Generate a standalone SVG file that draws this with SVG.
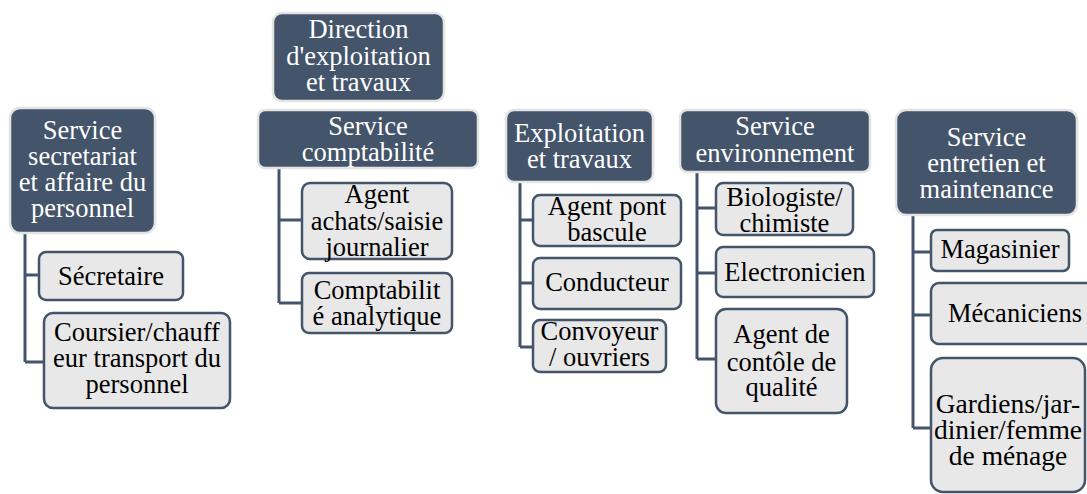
<svg xmlns="http://www.w3.org/2000/svg" width="1087" height="494" viewBox="0 0 1087 494" font-family="'Liberation Serif', 'Times New Roman', serif">
<style>
.hd{fill:#44546A;stroke:#E4E4E4;stroke-width:2.5}
.it{fill:#E8E8E8;stroke:#44546A;stroke-width:2.5}
.c{fill:none;stroke:#44546A;stroke-width:3}
text{font-family:"Liberation Serif","Times New Roman",serif;font-size:26.5px;text-anchor:middle}
.w{fill:#FFFFFF}
.k{fill:#000000}
.big{font-size:27.5px}
</style>
<rect width="1087" height="494" fill="#FFFFFF"/>
<g id="connectors">
<path class="c" d="M25,233 V362 M25,275 H39 M25,362 H44"/>
<path class="c" d="M279,168 V303 M279,220 H302 M279,303 H302"/>
<path class="c" d="M520,182 V347 M520,220 H533 M520,283 H533 M520,347 H533"/>
<path class="c" d="M697,172 V359 M697,208 H716 M697,273 H716 M697,359 H716"/>
<path class="c" d="M913,215 V428 M913,252 H931 M913,315 H931 M913,428 H931"/>
</g>
<g id="direction">
<rect class="hd" x="273" y="13" width="171" height="88" rx="9"/>
<text class="w" x="358.5" y="38">Direction</text>
<text class="w" x="358.5" y="65">d'exploitation</text>
<text class="w" x="358.5" y="91">et travaux</text>
</g>
<g id="secretariat">
<rect class="hd" x="10" y="108" width="145" height="125" rx="10"/>
<text class="w" x="82.5" y="139">Service</text>
<text class="w" x="82.5" y="165">secretariat</text>
<text class="w" x="82.5" y="191">et affaire du</text>
<text class="w" x="82.5" y="217">personnel</text>
</g>
<g id="secretaire">
<rect class="it" x="39" y="252" width="144" height="48" rx="7"/>
<text class="k" x="111" y="285">Sécretaire</text>
</g>
<g id="coursier">
<rect class="it" x="44" y="313" width="186" height="95" rx="9"/>
<text class="k" x="137" y="341">Coursier/chauff</text>
<text class="k" x="137" y="367">eur transport du</text>
<text class="k" x="137" y="393">personnel</text>
</g>
<g id="comptabilite">
<rect class="hd" x="258" y="110" width="220" height="58" rx="7"/>
<text class="w" x="368" y="135">Service</text>
<text class="w" x="368" y="161">comptabilité</text>
</g>
<g id="agent-achats">
<rect class="it" x="302" y="183" width="150" height="76" rx="8"/>
<text class="k" x="377" y="203">Agent</text>
<text class="k" x="377" y="230">achats/saisie</text>
<text class="k" x="377" y="256">journalier</text>
</g>
<g id="comptabilite-analytique">
<rect class="it" x="302" y="273" width="150" height="60" rx="7"/>
<text class="k" x="377" y="299">Comptabilit</text>
<text class="k" x="377" y="325">é analytique</text>
</g>
<g id="exploitation">
<rect class="hd" x="506" y="110" width="147" height="72" rx="8"/>
<text class="w" x="579.5" y="142">Exploitation</text>
<text class="w" x="579.5" y="168">et travaux</text>
</g>
<g id="agent-pont">
<rect class="it" x="533" y="195" width="148" height="51" rx="7"/>
<text class="k" x="607" y="215">Agent pont</text>
<text class="k" x="607" y="241">bascule</text>
</g>
<g id="conducteur">
<rect class="it" x="533" y="258" width="148" height="51" rx="7"/>
<text class="k" x="607" y="291">Conducteur</text>
</g>
<g id="convoyeur">
<rect class="it" x="533" y="320" width="133" height="52" rx="7"/>
<text class="k" x="599.5" y="340">Convoyeur</text>
<text class="k" x="599.5" y="366">/ ouvriers</text>
</g>
<g id="environnement">
<rect class="hd" x="680" y="110" width="190" height="62" rx="7"/>
<text class="w" x="775" y="135">Service</text>
<text class="w" x="775" y="162">environnement</text>
</g>
<g id="biologiste">
<rect class="it" x="716" y="183" width="137" height="52" rx="7"/>
<text class="k" x="784.5" y="206">Biologiste/</text>
<text class="k" x="784.5" y="232">chimiste</text>
</g>
<g id="electronicien">
<rect class="it" x="716" y="247" width="158" height="50" rx="7"/>
<text class="k" x="795" y="281">Electronicien</text>
</g>
<g id="controle-qualite">
<rect class="it" x="716" y="309" width="131" height="104" rx="10"/>
<text class="k" x="781.5" y="343">Agent de</text>
<text class="k" x="781.5" y="371">contôle de</text>
<text class="k" x="781.5" y="396">qualité</text>
</g>
<g id="entretien">
<rect class="hd" x="896" y="110" width="181" height="105" rx="10"/>
<text class="w" x="986.5" y="146">Service</text>
<text class="w" x="986.5" y="172">entretien et</text>
<text class="w" x="986.5" y="198">maintenance</text>
</g>
<g id="magasinier">
<rect class="it" x="931" y="230" width="138" height="41" rx="6"/>
<text class="k" x="1000" y="258">Magasinier</text>
</g>
<g id="mecaniciens">
<rect class="it" x="931" y="283" width="168" height="61" rx="8"/>
<text class="k" x="1015" y="322">Mécaniciens</text>
</g>
<g id="gardiens">
<rect class="it" x="931" y="358" width="154" height="134" rx="12"/>
<text class="k big" x="1008" y="413">Gardiens/jar-</text>
<text class="k big" x="1008" y="439">dinier/femme</text>
<text class="k big" x="1008" y="465">de ménage</text>
</g>
</svg>
